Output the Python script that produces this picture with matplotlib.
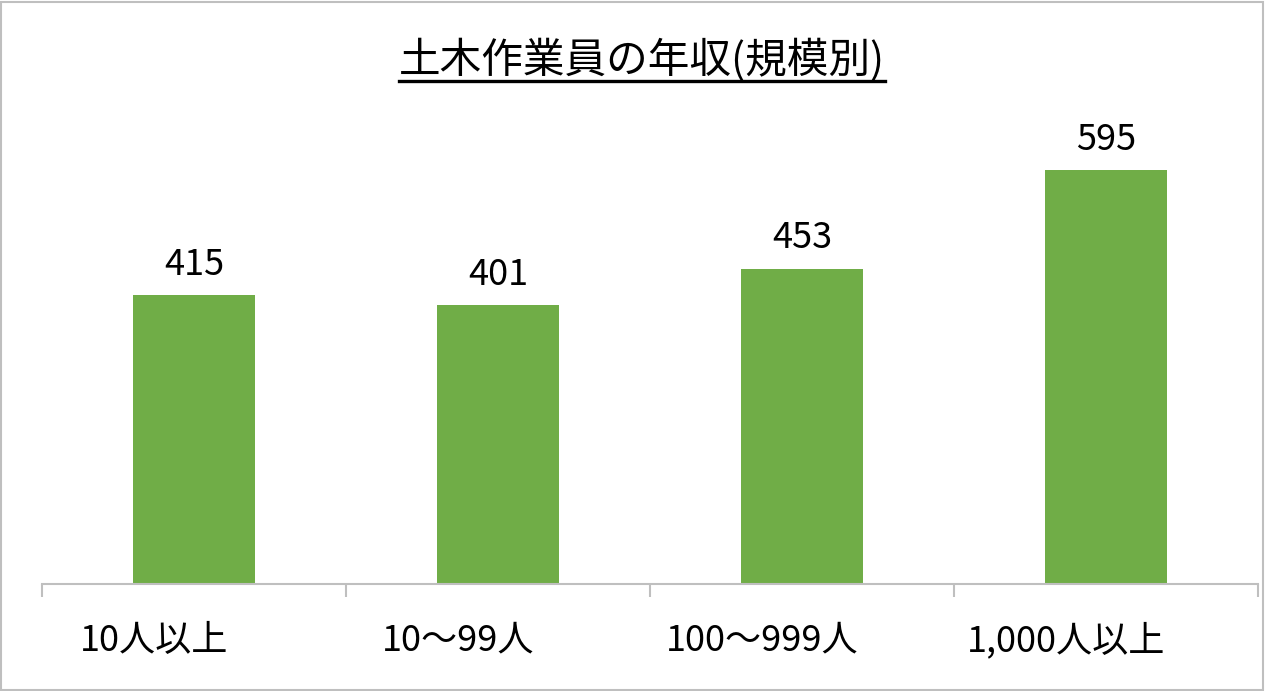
import matplotlib
matplotlib.use('Agg')
import matplotlib.pyplot as plt
import matplotlib.transforms as mtransforms
from matplotlib.lines import Line2D
from matplotlib.patches import Rectangle

plt.rcParams['font.family'] = ['Noto Sans CJK JP', 'DejaVu Sans']

categories = ['10人以上', '10～99人', '100～999人', '1,000人以上']
values = [415, 401, 453, 595]
title = '土木作業員の年収(規模別)'

W, H, dpi = 1266, 691, 100
fig = plt.figure(figsize=(W / dpi, H / dpi), dpi=dpi)

# plot area in pixels
left, right, bottom, top = 42, 1258, 584, 97
ax = fig.add_axes([left / W, 1 - bottom / H, (right - left) / W, (bottom - top) / H])

x = list(range(len(categories)))
ax.bar(x, values, width=0.4, color='#70AD47', zorder=2)
for xi, v in zip(x, values):
    ax.annotate(str(v), (xi, v), xytext=(0, 9), textcoords='offset points',
                ha='center', va='bottom', fontsize=26, color='black')

ax.set_xlim(-0.5, len(categories) - 0.5)
ax.set_ylim(0, 700)
ax.set_yticks([])
for s in ['top', 'left', 'right']:
    ax.spines[s].set_visible(False)
ax.spines['bottom'].set_color('#BFBFBF')
ax.spines['bottom'].set_linewidth(1.5)

ax.set_xticks(x)
ax.set_xticklabels(categories, fontsize=26)
ax.tick_params(axis='x', which='major', length=0, pad=28)
ax.set_xticks([i - 0.5 for i in range(len(categories) + 1)], minor=True)
ax.tick_params(axis='x', which='minor', length=9, width=1.5, color='#BFBFBF', direction='out')

# category labels sit a bit left of the bar centres in the original
shift = mtransforms.ScaledTranslation(-40 / dpi, 0, fig.dpi_scale_trans)
for lab in ax.get_xticklabels():
    lab.set_transform(lab.get_transform() + shift)

t = fig.text(642 / W, 1 - 60 / H, title, ha='center', va='center', fontsize=30)

# outer border
fig.patches.append(Rectangle((0.001, 0.002), 0.997, 0.995, transform=fig.transFigure,
                             fill=False, edgecolor='#BFBFBF', linewidth=1.5))

# underline the title
fig.canvas.draw()
bb = t.get_window_extent()
uy = 1 - 81 / H
fig.add_artist(Line2D([bb.x0 / W, bb.x1 / W], [uy, uy], transform=fig.transFigure,
                      color='black', linewidth=2.4))

fig.savefig('out.png', dpi=dpi)
